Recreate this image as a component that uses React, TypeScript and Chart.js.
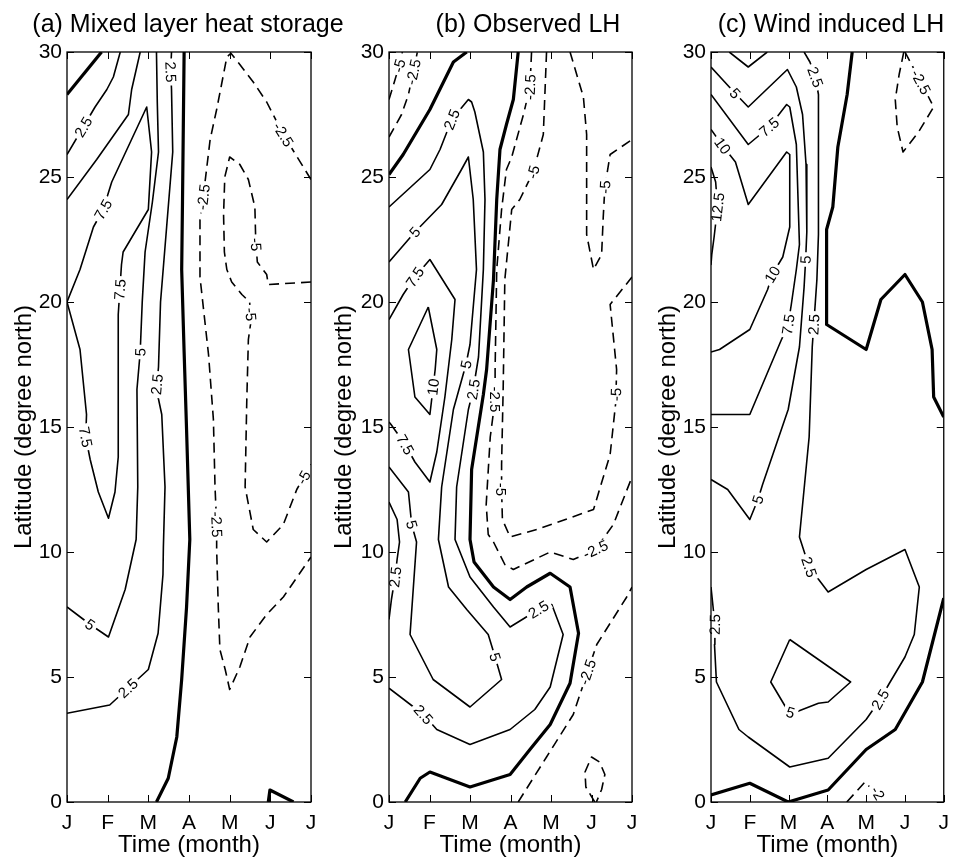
import React, { useEffect, useRef } from 'react';
import { Chart, registerables } from 'chart.js';

Chart.register(...registerables);

type Pt = [number, number];
type Lbl = [string, number, number];
type Kind = 'zero' | 'pos' | 'neg';
interface Contour { kind: Kind; pts: Pt[]; labels: Lbl[] }
interface FreeLbl { t: string; x: number; y: number; r: number }

const FONT = '"Liberation Sans", Arial, Helvetica, sans-serif';
const MONTHS = ['J', 'F', 'M', 'A', 'M', 'J', 'J'];
const LAT_TICKS = [0, 5, 10, 15, 20, 25, 30];

// ---------- Panel (a): Mixed layer heat storage ----------
const A_Z1: Pt[] = [[0, 28.3], [0.85, 30]];
const A_Z2: Pt[] = [[2.88, 30], [2.86, 27], [2.84, 24], [2.82, 21.3], [2.88, 18], [2.94, 14.9], [3.02, 10.5], [2.94, 7.8], [2.82, 4.9], [2.7, 2.6], [2.49, 0.95], [2.2, 0]];
const A_Z3: Pt[] = [[4.95, 0], [4.99, 0.48], [5.57, 0]];
const A_P25A: Pt[] = [[0, 25.9], [0.4, 27.0], [0.69, 27.8], [0.98, 28.5], [1.14, 29.0], [1.31, 30]];
const A_P5A: Pt[] = [[0, 24.1], [0.73, 25.7], [1.51, 27.5], [1.59, 28.5], [1.8, 30]];
const A_P75: Pt[] = [[0, 20], [0.32, 21.3], [0.65, 23.0], [0.89, 23.7], [1.1, 24.8], [1.96, 27.8], [2.08, 26.0], [2.0, 23.7], [1.38, 22.0], [1.34, 21.5], [1.3, 20.5], [1.26, 19.5], [1.26, 13.8], [1.18, 12.4], [1.02, 11.35], [0.77, 12.4], [0.57, 13.7], [0.46, 14.6], [0.48, 15.5], [0.32, 18.1], [0, 20]];
const A_P5B: Pt[] = [[2.2, 30], [2.22, 28], [2.25, 26], [2.1, 24], [1.92, 22], [1.85, 20], [1.8, 18.0], [1.72, 16.5], [1.74, 12.6], [1.7, 10.5], [1.43, 8.5], [1.02, 6.6], [0.57, 7.1], [0, 7.8]];
const A_P25B: Pt[] = [[2.57, 30], [2.55, 29.3], [2.57, 28.5], [2.6, 26], [2.45, 23], [2.3, 20], [2.25, 17.4], [2.2, 16.5], [2.33, 15.5], [2.41, 12.6], [2.37, 10.2], [2.36, 9.1], [2.24, 6.75], [2.0, 5.3], [1.5, 4.55], [1.05, 3.88], [0, 3.55]];
const A_N25: Pt[] = [[6, 24.9], [5.32, 26.7], [4.91, 28.0], [4.58, 28.8], [4.25, 29.5], [4.03, 29.95], [3.93, 29.8], [3.8, 28.7], [3.68, 27.7], [3.52, 26.5], [3.35, 24.2], [3.27, 23.3], [3.27, 21.0], [3.48, 17.9], [3.6, 15.3], [3.64, 12.6], [3.68, 11.1], [3.68, 10.1], [3.72, 7.8], [3.76, 6.1], [3.89, 5.3], [4.0, 4.5], [4.25, 5.4], [4.5, 6.6], [4.91, 7.5], [5.32, 8.2], [6, 9.8]];
const A_N5: Pt[] = [[6, 20.8], [4.95, 20.7], [4.91, 21.1], [4.68, 21.6], [4.64, 22.5], [4.62, 23.8], [4.46, 24.9], [4.25, 25.5], [4.0, 25.8], [3.88, 25.0], [3.85, 23.5], [3.87, 22.0], [3.93, 21.3], [4.05, 20.8], [4.3, 20.3], [4.49, 20.0], [4.53, 19.3], [4.46, 18.5], [4.42, 16], [4.38, 12.6], [4.58, 10.9], [4.91, 10.4], [5.32, 11.1], [5.65, 12.5], [6, 13.5]];

const A_P25A_L: Lbl[] = [['2.5', 0.4, 27.0]];
const A_P75_L: Lbl[] = [['7.5', 0.89, 23.7], ['7.5', 1.3, 20.5], ['7.5', 0.46, 14.6]];
const A_P5B_L: Lbl[] = [['5', 1.8, 18.0], ['5', 0.57, 7.1]];
const A_P25B_L: Lbl[] = [['2.5', 2.55, 29.2], ['2.5', 2.22, 16.7], ['2.5', 1.5, 4.55]];
const A_N25_L: Lbl[] = [['-2.5', 5.32, 26.7], ['-2.5', 3.35, 24.2], ['-2.5', 3.68, 11.1]];
const A_N5_L: Lbl[] = [['-5', 4.65, 22.3], ['-5', 4.52, 19.5], ['-5', 5.8, 13.0]];

// ---------- Panel (b): Observed LH ----------
const B_Z1: Pt[] = [[0, 25.1], [0.35, 25.9], [1.01, 27.7], [1.59, 29.6], [1.92, 30]];
const B_Z2: Pt[] = [[3.19, 30], [3.07, 28.1], [2.9, 27.1], [2.74, 26.1], [2.66, 24.1], [2.58, 20.9], [2.41, 17.3], [2.33, 16.3], [2.04, 13.3], [2.0, 10.5], [2.1, 9.6], [2.58, 8.6], [2.99, 8.1], [3.4, 8.6], [3.98, 9.15], [4.47, 8.6], [4.68, 6.75], [4.47, 4.75], [3.98, 3.1], [3.48, 2.1], [2.99, 1.1], [2.0, 0.6], [1.01, 1.2], [0.77, 0.95], [0.4, 0]];
const B_P25A: Pt[] = [[0, 23.8], [1.01, 25.3], [1.26, 26.1], [1.55, 27.3], [1.96, 28.1], [2.04, 28.0], [2.12, 27.6], [2.33, 26.0], [2.37, 24.1], [2.33, 21.3], [2.21, 17.8], [2.08, 16.5], [1.96, 15.7], [1.67, 12.6], [1.63, 10.5], [2.0, 9.0], [2.58, 7.8], [2.99, 7.0], [3.69, 7.7], [4.02, 7.9], [4.3, 6.7], [3.98, 4.6], [3.6, 3.7], [2.99, 2.9], [2.0, 2.3], [1.18, 2.9], [0.85, 3.5], [0, 4.55]];
const B_P25B: Pt[] = [[0, 12.0], [0.2, 11.3], [0.26, 10.4], [0.2, 9.7], [0.15, 9.0], [0.06, 8.1], [0, 7.3]];
const B_P5: Pt[] = [[0, 21.6], [0.64, 22.8], [1.3, 23.9], [1.79, 25.3], [1.96, 25.8], [2.08, 24.1], [2.16, 21.3], [2.0, 18.3], [1.9, 17.5], [1.59, 15.7], [1.3, 12.6], [1.22, 10.5], [1.47, 8.6], [1.92, 7.7], [2.45, 6.7], [2.62, 5.8], [2.78, 4.9], [2.0, 3.8], [1.09, 4.9], [0.52, 6.7], [0.68, 10.4], [0.56, 11.1], [0.48, 12.4], [0, 13.4]];
const B_P75: Pt[] = [[0, 19.3], [0.35, 20.3], [0.64, 21.0], [1.01, 21.7], [1.63, 20.1], [1.55, 18.5], [1.38, 16.2], [1.18, 14.0], [1.01, 12.8], [0.64, 13.6], [0.4, 14.3], [0.05, 15.1], [0, 15.2]];
const B_P10: Pt[] = [[0.97, 19.8], [1.18, 18.1], [1.14, 17.3], [1.09, 16.6], [1.01, 15.5], [0.64, 16.2], [0.48, 18.1], [0.97, 19.8]];
const B_N25A: Pt[] = [[0, 26.6], [0.31, 27.5], [0.48, 28.3], [0.6, 29.2], [0.7, 30]];
const B_N5A: Pt[] = [[0, 28.1], [0.15, 28.9], [0.25, 29.45], [0.33, 30]];
const B_N25B: Pt[] = [[3.52, 30], [3.48, 28.6], [3.32, 27.5], [3.03, 25.8], [2.9, 25.3], [2.78, 23.7], [2.66, 21.3], [2.62, 17.3], [2.62, 16.1], [2.5, 14.6], [2.4, 11.9], [2.45, 10.7], [2.58, 10.4], [2.86, 9.5], [3.07, 9.3], [3.98, 10.0], [4.55, 9.7], [5.1, 10.1], [5.54, 11.1], [6, 13.0]];
const B_N5B: Pt[] = [[3.89, 30], [3.81, 26.7], [3.56, 25.2], [3.23, 24.1], [3.03, 23.7], [2.86, 20.9], [2.82, 16.6], [2.78, 13.5], [2.78, 12.5], [2.8, 11.3], [2.99, 10.6], [3.65, 10.9], [5.05, 11.7], [5.46, 13.9], [5.6, 16.0], [5.62, 17.3], [5.46, 19.9], [6, 21.0]];
const B_N5C: Pt[] = [[4.47, 30], [4.8, 28.2], [4.88, 26.7], [4.88, 22.7], [5.05, 21.3], [5.25, 21.9], [5.29, 23.4], [5.33, 24.6], [5.46, 25.9], [6, 26.5]];
const B_N25C: Pt[] = [[3.19, 0], [3.89, 1.8], [4.55, 3.5], [4.9, 5.2], [5.13, 6.3], [5.87, 8.2], [6, 8.6]];
const B_N25D: Pt[] = [[5.08, 0], [4.86, 0.6], [4.84, 1.2], [5.0, 1.8], [5.2, 1.6], [5.33, 1.1], [5.25, 0.5], [5.12, 0]];

const B_P25A_L: Lbl[] = [['2.5', 1.55, 27.3], ['2.5', 2.08, 16.5], ['2.5', 3.69, 7.7], ['2.5', 0.85, 3.5]];
const B_P25B_L: Lbl[] = [['2.5', 0.15, 9.0]];
const B_P5_L: Lbl[] = [['5', 0.64, 22.8], ['5', 1.9, 17.5], ['5', 2.62, 5.8], ['5', 0.58, 11.1]];
const B_P75_L: Lbl[] = [['7.5', 0.64, 21.0], ['7.5', 0.4, 14.3]];
const B_P10_L: Lbl[] = [['10', 1.09, 16.6]];
const B_N25A_L: Lbl[] = [['-2.5', 0.6, 29.2]];
const B_N5A_L: Lbl[] = [['-5', 0.25, 29.45]];
const B_N25B_L: Lbl[] = [['-2.5', 3.48, 28.6], ['-2.5', 2.62, 16.1], ['-2.5', 5.1, 10.1]];
const B_N5B_L: Lbl[] = [['-5', 3.56, 25.2], ['-5', 2.78, 12.5], ['-5', 5.6, 16.3]];
const B_N5C_L: Lbl[] = [['-5', 5.32, 24.6]];
const B_N25C_L: Lbl[] = [['-2.5', 4.9, 5.2]];

// ---------- Panel (c): Wind induced LH ----------
const C_Z1: Pt[] = [[3.64, 30], [3.51, 28.3], [3.27, 26.2], [3.14, 23.8], [2.98, 22.9], [2.98, 19.1], [4.0, 18.1], [4.38, 20.1], [5.0, 21.1], [5.45, 20.0], [5.7, 18.1], [5.74, 16.2], [6, 15.4]];
const C_Z2: Pt[] = [[0, 0.28], [1.0, 0.75], [1.99, 0], [3.02, 0.48], [4.0, 2.1], [4.75, 2.9], [5.45, 4.8], [6, 8.15]];
const C_P25A: Pt[] = [[0.47, 30], [0.96, 29.4], [1.45, 30]];
const C_P25B: Pt[] = [[2.4, 30], [2.55, 29.6], [2.69, 29.0], [2.77, 28.3], [2.77, 22.7], [2.73, 20.9], [2.65, 19.1], [2.61, 18.2], [2.53, 14.6], [2.28, 10.6], [2.53, 9.4], [3.02, 8.4], [4.0, 9.3], [5.0, 10.1], [5.37, 8.6], [5.24, 6.7], [5.0, 5.8], [4.58, 4.7], [4.36, 4.1], [4.0, 3.3], [3.02, 1.75], [2.03, 1.4], [0.96, 2.6], [0.72, 2.9], [0.14, 4.8], [0.09, 6.3], [0.1, 7.1], [0.04, 8.0], [0, 8.6]];
const C_P5: Pt[] = [[0, 29.4], [0.62, 28.35], [0.96, 27.8], [1.97, 29.3], [2.2, 28.6], [2.36, 27.5], [2.45, 25.5], [2.47, 22.8], [2.44, 21.7], [2.4, 20.6], [2.28, 18.2], [1.99, 15.7], [1.33, 12.7], [1.21, 12.1], [1.0, 11.3], [0.43, 12.5], [0, 12.9]];
const C_P5LOOP: Pt[] = [[2.03, 6.5], [3.6, 4.8], [3.02, 4.0], [2.77, 3.95], [2.11, 3.55], [2.0, 3.6], [1.54, 4.8], [2.03, 6.5]];
const C_P75: Pt[] = [[0, 28.3], [0.96, 26.3], [1.5, 27.0], [1.95, 27.9], [2.03, 27.8], [2.2, 26.3], [2.28, 22.3], [2.2, 21.3], [2.07, 19.9], [1.99, 19.1], [1.79, 18.4], [1.0, 15.5], [0, 15.5]];
const C_P10: Pt[] = [[0, 26.9], [0.3, 26.25], [0.63, 25.6], [0.96, 23.9], [1.95, 26.0], [2.03, 25.9], [2.03, 23.0], [1.85, 21.8], [1.58, 21.1], [1.46, 20.5], [1.0, 18.9], [0.22, 18.1], [0, 18.0]];
const C_P125: Pt[] = [[0, 25.4], [0.12, 24.8], [0.17, 23.8], [0.08, 22.6], [0.02, 21.9], [0, 21.5]];
const C_N25: Pt[] = [[5.0, 30], [5.41, 28.8], [5.74, 27.8], [5.35, 26.8], [4.95, 26.0], [4.8, 27.0], [4.75, 28.1], [4.85, 29.1], [4.97, 30]];
const C_N25B: Pt[] = [[3.5, 0], [3.97, 0.8], [4.08, 0.62]];

const C_P25B_L: Lbl[] = [['2.5', 2.69, 29.0], ['2.5', 2.65, 19.1], ['2.5', 2.53, 9.4], ['2.5', 4.36, 4.1], ['2.5', 0.1, 7.1]];
const C_P5_L: Lbl[] = [['5', 0.62, 28.35], ['5', 2.44, 21.7], ['5', 1.21, 12.1]];
const C_P5LOOP_L: Lbl[] = [['5', 2.05, 3.58]];
const C_P75_L: Lbl[] = [['7.5', 1.5, 27.0], ['7.5', 1.99, 19.1]];
const C_P10_L: Lbl[] = [['10', 0.3, 26.25], ['10', 1.58, 21.1]];
const C_P125_L: Lbl[] = [['12.5', 0.15, 23.8]];
const C_N25_L: Lbl[] = [['-2.5', 5.41, 28.8]];
const C_FREE: FreeLbl[] = [{ t: '-2', x: 4.3, y: 0.35, r: 60 }];

const PANEL_A: Contour[] = [
  { kind: 'zero', pts: A_Z1, labels: [] },
  { kind: 'zero', pts: A_Z2, labels: [] },
  { kind: 'zero', pts: A_Z3, labels: [] },
  { kind: 'pos', pts: A_P25A, labels: A_P25A_L },
  { kind: 'pos', pts: A_P5A, labels: [] },
  { kind: 'pos', pts: A_P75, labels: A_P75_L },
  { kind: 'pos', pts: A_P5B, labels: A_P5B_L },
  { kind: 'pos', pts: A_P25B, labels: A_P25B_L },
  { kind: 'neg', pts: A_N25, labels: A_N25_L },
  { kind: 'neg', pts: A_N5, labels: A_N5_L },
];
const PANEL_B: Contour[] = [
  { kind: 'zero', pts: B_Z1, labels: [] },
  { kind: 'zero', pts: B_Z2, labels: [] },
  { kind: 'pos', pts: B_P25A, labels: B_P25A_L },
  { kind: 'pos', pts: B_P25B, labels: B_P25B_L },
  { kind: 'pos', pts: B_P5, labels: B_P5_L },
  { kind: 'pos', pts: B_P75, labels: B_P75_L },
  { kind: 'pos', pts: B_P10, labels: B_P10_L },
  { kind: 'neg', pts: B_N25A, labels: B_N25A_L },
  { kind: 'neg', pts: B_N5A, labels: B_N5A_L },
  { kind: 'neg', pts: B_N25B, labels: B_N25B_L },
  { kind: 'neg', pts: B_N5B, labels: B_N5B_L },
  { kind: 'neg', pts: B_N5C, labels: B_N5C_L },
  { kind: 'neg', pts: B_N25C, labels: B_N25C_L },
  { kind: 'neg', pts: B_N25D, labels: [] },
];
const PANEL_C: Contour[] = [
  { kind: 'zero', pts: C_Z1, labels: [] },
  { kind: 'zero', pts: C_Z2, labels: [] },
  { kind: 'pos', pts: C_P25A, labels: [] },
  { kind: 'pos', pts: C_P25B, labels: C_P25B_L },
  { kind: 'pos', pts: C_P5, labels: C_P5_L },
  { kind: 'pos', pts: C_P5LOOP, labels: C_P5LOOP_L },
  { kind: 'pos', pts: C_P75, labels: C_P75_L },
  { kind: 'pos', pts: C_P10, labels: C_P10_L },
  { kind: 'pos', pts: C_P125, labels: C_P125_L },
  { kind: 'neg', pts: C_N25, labels: C_N25_L },
  { kind: 'neg', pts: C_N25B, labels: [] },
];

interface PanelSpec {
  title: string;
  titleCenter: number;
  canvasLeft: number;
  canvasWidth: number;
  plotLeft: number;
  plotRight: number;
  yTitlePad: number;
  contours: Contour[];
  free: FreeLbl[];
}

const SPECS: PanelSpec[] = [
  { title: '(a) Mixed layer heat storage', titleCenter: 188, canvasLeft: 0, canvasWidth: 360, plotLeft: 67, plotRight: 311, yTitlePad: 9.6, contours: PANEL_A, free: [] },
  { title: '(b) Observed LH', titleCenter: 528, canvasLeft: 320, canvasWidth: 340, plotLeft: 389, plotRight: 632, yTitlePad: 9.6, contours: PANEL_B, free: [] },
  { title: '(c) Wind induced LH', titleCenter: 831, canvasLeft: 640, canvasWidth: 318, plotLeft: 711, plotRight: 954, yTitlePad: 13.6, contours: PANEL_C, free: C_FREE },
];

const PLOT_TOP = 52;
const CANVAS_H = 860;
const LABEL_FONT = `15px ${FONT}`;

function placeLabel(chart: any, c: Contour, l: Lbl) {
  const xs = chart.scales.x, ys = chart.scales.y;
  const P = c.pts.map(([x, y]) => [xs.getPixelForValue(x), ys.getPixelForValue(y)]);
  const lx = xs.getPixelForValue(l[1]), ly = ys.getPixelForValue(l[2]);
  let best = { d: Infinity, px: lx, py: ly, ang: 0 };
  for (let i = 0; i < P.length - 1; i++) {
    const [x1, y1] = P[i], [x2, y2] = P[i + 1];
    const dx = x2 - x1, dy = y2 - y1;
    const L2 = dx * dx + dy * dy || 1;
    let t = ((lx - x1) * dx + (ly - y1) * dy) / L2;
    t = Math.max(0, Math.min(1, t));
    const px = x1 + t * dx, py = y1 + t * dy;
    const d = Math.hypot(px - lx, py - ly);
    if (d < best.d) {
      let a = Math.atan2(dy, dx);
      if (a > Math.PI / 2) a -= Math.PI;
      if (a <= -Math.PI / 2) a += Math.PI;
      best = { d, px, py, ang: a };
    }
  }
  return best;
}

function makePlugin(spec: PanelSpec) {
  return {
    id: 'contourDeco',
    beforeDatasetDraw(chart: any, args: any) {
      const c = spec.contours[args.index];
      if (!c || c.labels.length === 0) return;
      const ctx = chart.ctx as CanvasRenderingContext2D;
      ctx.save();
      ctx.font = LABEL_FONT;
      ctx.beginPath();
      ctx.rect(0, 0, chart.width, chart.height);
      for (const l of c.labels) {
        const g = placeLabel(chart, c, l);
        const hw = ctx.measureText(l[0]).width / 2 + 3;
        const hh = 6;
        const cs = Math.cos(g.ang), sn = Math.sin(g.ang);
        const corners = [[-hw, -hh], [hw, -hh], [hw, hh], [-hw, hh]].map(([u, v]) => [g.px + u * cs - v * sn, g.py + u * sn + v * cs]);
        ctx.moveTo(corners[0][0], corners[0][1]);
        for (let k = 1; k < 4; k++) ctx.lineTo(corners[k][0], corners[k][1]);
        ctx.closePath();
      }
      ctx.clip('evenodd');
    },
    afterDatasetDraw(chart: any, args: any) {
      const c = spec.contours[args.index];
      if (!c || c.labels.length === 0) return;
      chart.ctx.restore();
    },
    afterDatasetsDraw(chart: any) {
      const ctx = chart.ctx as CanvasRenderingContext2D;
      ctx.save();
      ctx.font = LABEL_FONT;
      ctx.fillStyle = '#000';
      ctx.textAlign = 'center';
      ctx.textBaseline = 'middle';
      for (const c of spec.contours) {
        for (const l of c.labels) {
          const g = placeLabel(chart, c, l);
          ctx.save();
          ctx.translate(g.px, g.py);
          ctx.rotate(g.ang);
          ctx.fillText(l[0], 0, 1);
          ctx.restore();
        }
      }
      const xs = chart.scales.x, ys = chart.scales.y;
      for (const f of spec.free) {
        ctx.save();
        ctx.translate(xs.getPixelForValue(f.x), ys.getPixelForValue(f.y));
        ctx.rotate((f.r * Math.PI) / 180);
        ctx.fillText(f.t, 0, 1);
        ctx.restore();
      }
      ctx.restore();
    },
    afterDraw(chart: any) {
      const ctx = chart.ctx as CanvasRenderingContext2D;
      const a = chart.chartArea;
      const xs = chart.scales.x, ys = chart.scales.y;
      ctx.save();
      ctx.strokeStyle = '#000';
      ctx.lineWidth = 1.3;
      ctx.strokeRect(a.left, a.top, a.right - a.left, a.bottom - a.top);
      ctx.lineWidth = 1;
      const TL = 7;
      ctx.beginPath();
      MONTHS.forEach((_, i) => {
        const x = Math.round(xs.getPixelForValue(i)) + 0.5;
        ctx.moveTo(x, a.bottom); ctx.lineTo(x, a.bottom - TL);
        ctx.moveTo(x, a.top); ctx.lineTo(x, a.top + TL);
      });
      LAT_TICKS.forEach((v) => {
        const y = Math.round(ys.getPixelForValue(v)) + 0.5;
        ctx.moveTo(a.left, y); ctx.lineTo(a.left + TL, y);
        ctx.moveTo(a.right, y); ctx.lineTo(a.right - TL, y);
      });
      ctx.stroke();
      ctx.font = `25px ${FONT}`;
      ctx.fillStyle = '#000';
      ctx.textAlign = 'center';
      ctx.textBaseline = 'alphabetic';
      ctx.fillText(spec.title, spec.titleCenter - spec.canvasLeft, 32);
      ctx.restore();
    },
  };
}

function Panel({ spec }: { spec: PanelSpec }) {
  const ref = useRef<HTMLCanvasElement>(null);
  useEffect(() => {
    const canvas = ref.current;
    if (!canvas) return;
    const yWidth = spec.plotLeft - spec.canvasLeft;
    const rightPad = spec.canvasWidth - (spec.plotRight - spec.canvasLeft);
    const chart = new Chart(canvas, {
      type: 'scatter',
      data: {
        datasets: spec.contours.map((c) => ({
          data: c.pts.map(([x, y]) => ({ x, y })),
          showLine: true,
          pointRadius: 0,
          pointHoverRadius: 0,
          borderColor: '#000',
          backgroundColor: '#000',
          borderWidth: c.kind === 'zero' ? 3.2 : 1.6,
          borderDash: c.kind === 'neg' ? [10, 6] : [],
          borderJoinStyle: 'round',
          tension: 0,
          fill: false,
        })),
      },
      options: {
        animation: false,
        responsive: false,
        events: [],
        layout: { padding: { top: PLOT_TOP, bottom: 0, left: 0, right: rightPad } },
        plugins: { legend: { display: false }, tooltip: { enabled: false }, title: { display: false } },
        scales: {
          x: {
            type: 'linear',
            position: 'bottom',
            min: 0,
            max: 6,
            afterBuildTicks: (s: any) => { s.ticks = MONTHS.map((_, i) => ({ value: i })); },
            afterFit: (s: any) => { s.height = CANVAS_H - 802; },
            ticks: {
              callback: (v: any) => MONTHS[Math.round(Number(v))] ?? '',
              font: { family: FONT, size: 21 },
              color: '#000',
              padding: 9,
              maxRotation: 0,
              autoSkip: false,
            },
            grid: { display: false, drawTicks: false },
            border: { display: false },
            title: { display: true, text: 'Time (month)', font: { family: FONT, size: 24 }, color: '#000', padding: 0 },
          },
          y: {
            type: 'linear',
            position: 'left',
            min: 0,
            max: 30,
            afterBuildTicks: (s: any) => { s.ticks = LAT_TICKS.map((v) => ({ value: v })); },
            afterFit: (s: any) => { s.width = yWidth; },
            ticks: { font: { family: FONT, size: 21 }, color: '#000', padding: 5 },
            grid: { display: false, drawTicks: false },
            border: { display: false },
            title: { display: true, text: 'Latitude (degree north)', font: { family: FONT, size: 24 }, color: '#000', padding: { top: spec.yTitlePad, bottom: 0 } },
          },
        },
      } as any,
      plugins: [makePlugin(spec)],
    });
    return () => chart.destroy();
  }, [spec]);
  return (
    <canvas
      ref={ref}
      width={spec.canvasWidth}
      height={CANVAS_H}
      style={{ position: 'absolute', left: spec.canvasLeft, top: 0, width: spec.canvasWidth, height: CANVAS_H }}
    />
  );
}

export default function App() {
  return (
    <div style={{ position: 'absolute', left: 0, top: 0, width: 958, height: 860, overflow: 'hidden', background: '#fff' }}>
      {SPECS.map((s) => (
        <Panel key={s.title} spec={s} />
      ))}
    </div>
  );
}
